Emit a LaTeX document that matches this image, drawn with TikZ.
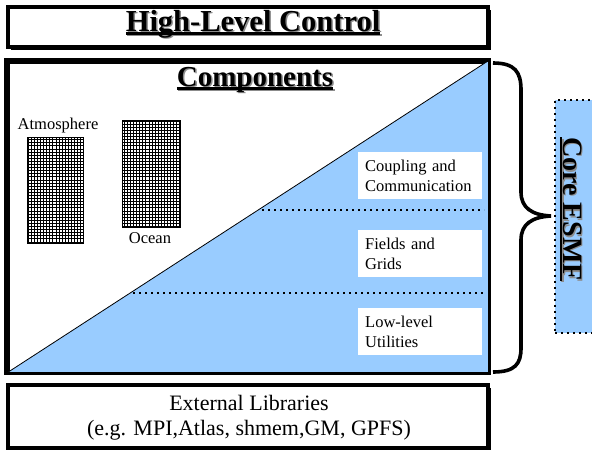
\documentclass[tikz,border=0pt]{standalone}
\usepackage{fontspec}
\usepackage{graphicx}
\setmainfont{Liberation Serif}
\usetikzlibrary{shadows}
\definecolor{esmfblue}{RGB}{153,204,255}
\newcommand\myul[1]{\setbox0\hbox{#1}\rlap{\rule[-3.5pt]{\wd0}{2.2pt}}\box0}
\begin{document}
\begin{tikzpicture}[x=1pt,y=-1pt,
  sbox/.style={draw, line width=3.5pt, fill=white, inner sep=0pt, anchor=north west,
    drop shadow={fill=black, opacity=1, shadow xshift=2.8pt, shadow yshift=-2.8pt}},
  ttl/.style={font=\fontsize{29}{31}\selectfont\bfseries, inner sep=0pt},
  ttlsh/.style={ttl, text=black!45},
  small/.style={font=\fontsize{16.5}{20}\selectfont, inner sep=0pt},
  wbox/.style={fill=white, minimum width=124pt, minimum height=47pt, anchor=north west,
    inner xsep=7pt, inner ysep=0pt, text width=110pt, align=left,
    font=\fontsize{16.5}{20}\selectfont},
  gridbox/.style={draw, line width=0.9pt, anchor=north west, inner sep=0pt},
  gridlines/.style={line width=0.6pt, step=3.1pt},
  dotline/.style={line width=1.7pt, dash pattern=on 1.7pt off 4.3pt},
  brace/.style={line width=3.6pt}]
\useasboundingbox (0,0) rectangle (592,450);

% High-level control
\node[sbox, minimum width=480pt, minimum height=40pt] (hl) at (6,5) {};
\node[ttlsh, font=\fontsize{30.5}{32}\selectfont\bfseries, anchor=base] (hlsh) at (254.5,32.5) {\myul{High-Level Control}};
\node[ttl, font=\fontsize{30.5}{32}\selectfont\bfseries, anchor=base] (hlt) at (253,31) {\myul{High-Level Control}};

% Components
\node[sbox, minimum width=480pt, minimum height=310pt] (comp) at (6,60) {};
\fill[esmfblue] (comp.south west) -- (comp.north east) -- (comp.south east) -- cycle;
\draw[line width=0.8pt] (comp.south west) -- (comp.north east);
\node[ttlsh, anchor=base] (compsh) at (256.5,87.5) {\myul{Components}};
\node[ttl, anchor=base] (compt) at (255,86) {\myul{Components}};

% grids
\node[gridbox, minimum width=56pt, minimum height=106pt] (atm) at (27,137) {};
\draw[gridlines] (atm.north west) grid (atm.south east);
\node[small] (atmt) at (58,126) {Atmosphere};
\node[gridbox, minimum width=57pt, minimum height=107pt] (ocn) at (122,120) {};
\draw[gridlines] (ocn.north west) grid (ocn.south east);
\node[small] (ocnt) at (150,238) {Ocean};

% layers
\coordinate (d1a) at (262,210);
\coordinate (d1b) at (484,210);
\coordinate (d2a) at (133,293);
\coordinate (d2b) at (484,293);
\draw[dotline] (d1a) -- (d1b);
\draw[dotline] (d2a) -- (d2b);
\node[wbox] (cc) at (358,152) {Coupling and\\Communication};
\node[wbox] (fg) at (358,230) {Fields and\\Grids};
\node[wbox] (ll) at (358,308) {Low-level\\Utilities};
\draw[line width=3.5pt] (comp.north west) rectangle (comp.south east);

% External libraries
\node[sbox, minimum width=480pt, minimum height=63pt] (ext) at (6,383) {};
\node[font=\fontsize{22}{25}\selectfont, align=center, inner sep=0pt] (extt) at (249,418)
  {External Libraries\\(e.g. MPI,Atlas, shmem,GM, GPFS)};

% brace
\coordinate (bt) at (493,63);
\coordinate (bm) at (551,216);
\coordinate (bb) at (493,372);
\draw[brace] (bt) .. controls (515,63) and (521,72) .. (521,90) -- (521,192)
  .. controls (521,208) and (532,215) .. (bm)
  .. controls (532,217) and (521,224) .. (521,240) -- (521,348)
  .. controls (521,364) and (515,372) .. (bb);

% Core ESMF
\node[draw, fill=esmfblue, line width=1.8pt, dash pattern=on 1.8pt off 4.2pt,
  minimum width=42pt, minimum height=233pt, anchor=north west, inner sep=0pt] (core) at (554,99) {};
\node[ttlsh, font=\fontsize{28}{30}\selectfont\bfseries] (coresh) at (572.5,210.5) {\rotatebox{-90}{\myul{Core ESMF}}};
\node[ttl, font=\fontsize{28}{30}\selectfont\bfseries] (coret) at (571,209) {\rotatebox{-90}{\myul{Core ESMF}}};
\end{tikzpicture}
\end{document}
